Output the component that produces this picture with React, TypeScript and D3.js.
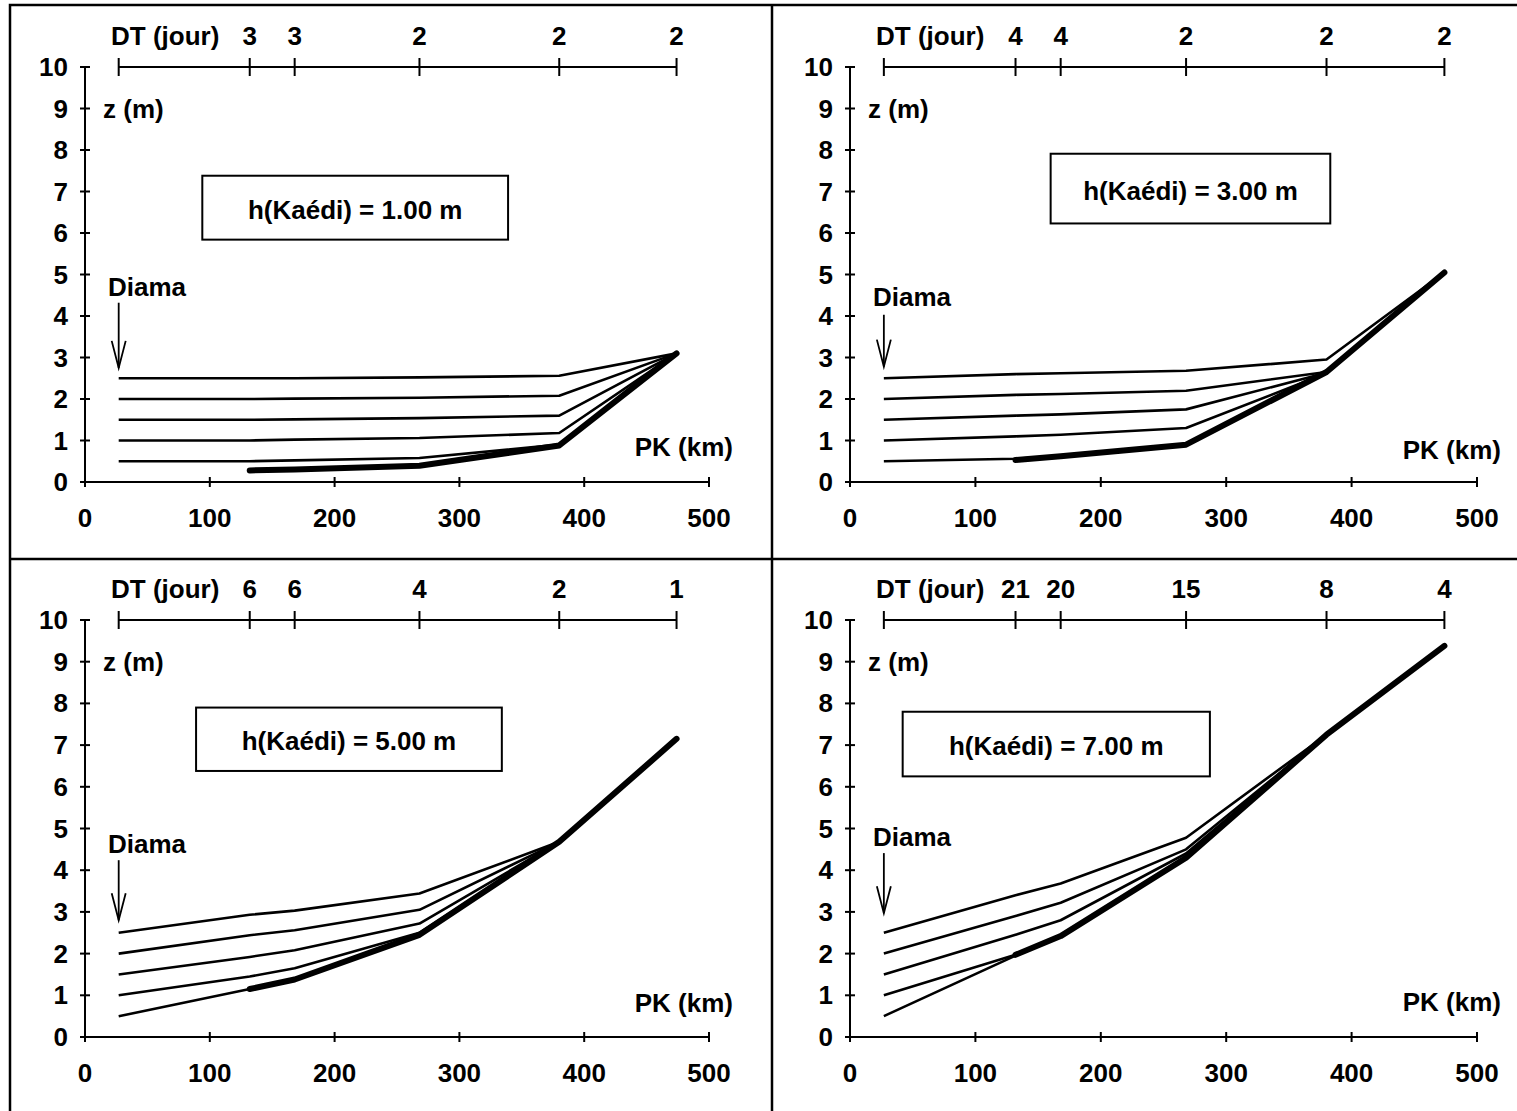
import React from 'react';
import * as d3 from 'd3';

// ---- DATA ----
const stationsPK = [27, 132, 168, 268, 380, 474];
const xTickValues = [0, 100, 200, 300, 400, 500];
const yTickValues = [0, 1, 2, 3, 4, 5, 6, 7, 8, 9, 10];

const titles = ['h(Kaédi) = 1.00 m', 'h(Kaédi) = 3.00 m', 'h(Kaédi) = 5.00 m', 'h(Kaédi) = 7.00 m'];

const dtP1 = ['3', '3', '2', '2', '2'];
const dtP2 = ['4', '4', '2', '2', '2'];
const dtP3 = ['6', '6', '4', '2', '1'];
const dtP4 = ['21', '20', '15', '8', '4'];

// Panel 1: h(Kaédi) = 1.00 m
const p1z25 = [2.5, 2.5, 2.5, 2.52, 2.56, 3.1];
const p1z20 = [2.0, 2.0, 2.01, 2.03, 2.08, 3.1];
const p1z15 = [1.5, 1.5, 1.51, 1.54, 1.6, 3.1];
const p1z10 = [1.0, 1.0, 1.02, 1.06, 1.18, 3.1];
const p1z05 = [0.5, 0.5, 0.52, 0.58, 0.9, 3.1];
const p1thick = [null, 0.28, 0.3, 0.39, 0.88, 3.1];

// Panel 2: h(Kaédi) = 3.00 m
const p2z25 = [2.5, 2.6, 2.62, 2.68, 2.95, 5.05];
const p2z20 = [2.0, 2.1, 2.12, 2.2, 2.65, 5.05];
const p2z15 = [1.5, 1.6, 1.63, 1.75, 2.63, 5.05];
const p2z10 = [1.0, 1.1, 1.14, 1.3, 2.62, 5.05];
const p2z05 = [0.5, 0.56, 0.63, 0.88, 2.63, 5.05];
const p2thick = [null, 0.53, 0.62, 0.9, 2.65, 5.05];

// Panel 3: h(Kaédi) = 5.00 m
const p3z25 = [2.5, 2.93, 3.03, 3.44, 4.68, 7.15];
const p3z20 = [2.0, 2.44, 2.56, 3.05, 4.68, 7.15];
const p3z15 = [1.5, 1.92, 2.08, 2.72, 4.68, 7.15];
const p3z10 = [1.0, 1.45, 1.65, 2.5, 4.68, 7.15];
const p3z05 = [0.5, 1.15, 1.4, 2.45, 4.68, 7.15];
const p3thick = [null, 1.15, 1.38, 2.45, 4.68, 7.15];

// Panel 4: h(Kaédi) = 7.00 m
const p4z25 = [2.5, 3.4, 3.68, 4.78, 7.25, 9.38];
const p4z20 = [2.0, 2.9, 3.22, 4.5, 7.25, 9.38];
const p4z15 = [1.5, 2.45, 2.8, 4.4, 7.25, 9.38];
const p4z10 = [1.0, 1.97, 2.42, 4.3, 7.25, 9.38];
const p4z05 = [0.5, 1.95, 2.4, 4.3, 7.25, 9.38];
const p4thick = [null, 1.97, 2.42, 4.3, 7.25, 9.38];

// ---- LAYOUT ----
const colX = [[85, 709], [850, 1477]];
const rowY = [[482, 67], [1037, 620]];
// per-panel annotation placement (data coords)
const boxes = [
  { x0: 94, x1: 339, z0: 5.84, z1: 7.38 },
  { x0: 160, x1: 383, z0: 6.23, z1: 7.91 },
  { x0: 89, x1: 334, z0: 6.38, z1: 7.9 },
  { x0: 42, x1: 287, z0: 6.25, z1: 7.8 },
];
const diamaPos = [
  { label: 4.7, top: 4.32, tip: 2.75, pk: 0.84 },
  { label: 4.46, top: 4.03, tip: 2.78, pk: 0.78 },
  { label: 4.63, top: 4.24, tip: 2.8, pk: 0.82 },
  { label: 4.8, top: 4.41, tip: 2.97, pk: 0.84 },
];

const panels = [
  { dt: dtP1, lines: [p1z25, p1z20, p1z15, p1z10, p1z05], thick: p1thick },
  { dt: dtP2, lines: [p2z25, p2z20, p2z15, p2z10, p2z05], thick: p2thick },
  { dt: dtP3, lines: [p3z25, p3z20, p3z15, p3z10, p3z05], thick: p3thick },
  { dt: dtP4, lines: [p4z25, p4z20, p4z15, p4z10, p4z05], thick: p4thick },
];

const FONT = "'Liberation Sans', Arial, Helvetica, sans-serif";
const FS = 26;

function Panel({ idx }: { idx: number }) {
  const col = idx % 2;
  const row = Math.floor(idx / 2);
  const x = d3.scaleLinear().domain([0, 500]).range(colX[col]);
  const y = d3.scaleLinear().domain([0, 10]).range(rowY[row]);
  const p = panels[idx];
  const line = d3
    .line<[number, number | null]>()
    .defined((d) => d[1] !== null)
    .x((d) => x(d[0]))
    .y((d) => y(d[1] as number));
  const pts = (arr: (number | null)[]) => stationsPK.map((pk, i) => [pk, arr[i]] as [number, number | null]);
  const txt = { fontFamily: FONT, fontSize: FS, fontWeight: 'bold' as const, fill: '#000' };
  const X0 = x(0), X500 = x(500), Y0 = y(0), Y10 = y(10);
  const b = boxes[idx];
  const dm = diamaPos[idx];
  const ax = x(stationsPK[0]);
  return (
    <g>
      {/* y axis */}
      <line x1={X0} x2={X0} y1={Y0} y2={Y10} stroke="#000" strokeWidth={2} />
      {yTickValues.map((t) => (
        <g key={'y' + t}>
          <line x1={X0 - 5} x2={X0 + 5} y1={y(t)} y2={y(t)} stroke="#000" strokeWidth={2} />
          <text x={X0 - 17} y={y(t)} textAnchor="end" dominantBaseline="central" style={txt}>{t}</text>
        </g>
      ))}
      {/* x axis */}
      <line x1={X0} x2={X500} y1={Y0} y2={Y0} stroke="#000" strokeWidth={2} />
      {xTickValues.map((t) => (
        <g key={'x' + t}>
          <line x1={x(t)} x2={x(t)} y1={Y0 - 5} y2={Y0 + 5} stroke="#000" strokeWidth={2} />
          <text x={x(t)} y={Y0 + 36} textAnchor="middle" dominantBaseline="central" style={txt}>{t}</text>
        </g>
      ))}
      {/* DT top axis */}
      <line x1={x(stationsPK[0])} x2={x(stationsPK[stationsPK.length - 1])} y1={Y10} y2={Y10} stroke="#000" strokeWidth={2} />
      {stationsPK.map((pk) => (
        <line key={'dt' + pk} x1={x(pk)} x2={x(pk)} y1={Y10 - 9} y2={Y10 + 9} stroke="#000" strokeWidth={2} />
      ))}
      <text x={X0 + 26} y={Y10 - 31} dominantBaseline="central" style={txt}>DT (jour)</text>
      {p.dt.map((lab, i) => (
        <text key={'dtl' + i} x={x(stationsPK[i + 1])} y={Y10 - 31} textAnchor="middle" dominantBaseline="central" style={txt}>{lab}</text>
      ))}
      {/* labels */}
      <text x={X0 + 18} y={y(9)} dominantBaseline="central" style={txt}>z (m)</text>
      <text x={X500 + 24} y={y(dm.pk)} textAnchor="end" dominantBaseline="central" style={txt}>PK (km)</text>
      <text x={X0 + 23} y={y(dm.label)} dominantBaseline="central" style={txt}>Diama</text>
      <line x1={ax} x2={ax} y1={y(dm.top)} y2={y(dm.tip)} stroke="#000" strokeWidth={1.8} />
      <polyline points={`${ax - 7},${y(dm.tip) - 27} ${ax},${y(dm.tip)} ${ax + 7},${y(dm.tip) - 27}`} fill="none" stroke="#000" strokeWidth={1.8} />
      {/* box */}
      <rect x={x(b.x0)} y={y(b.z1)} width={x(b.x1) - x(b.x0)} height={y(b.z0) - y(b.z1)} fill="#fff" stroke="#000" strokeWidth={2} />
      <text x={(x(b.x0) + x(b.x1)) / 2} y={(y(b.z0) + y(b.z1)) / 2 + 2} textAnchor="middle" dominantBaseline="central" style={txt}>{titles[idx]}</text>
      {/* lines */}
      {p.lines.map((arr, i) => (
        <path key={'l' + i} d={line(pts(arr)) || ''} fill="none" stroke="#000" strokeWidth={2.6} strokeLinejoin="round" />
      ))}
      <path d={line(pts(p.thick)) || ''} fill="none" stroke="#000" strokeWidth={6} strokeLinejoin="round" strokeLinecap="round" />
    </g>
  );
}

export default function App() {
  return (
    <svg width={1517} height={1111} style={{ position: 'absolute', left: 0, top: 0, background: '#fff' }}>
      <rect x={0} y={0} width={1517} height={1111} fill="#fff" />
      {/* frame */}
      <rect x={10} y={5} width={1530} height={1130} fill="none" stroke="#000" strokeWidth={2.5} />
      <line x1={772} x2={772} y1={5} y2={1111} stroke="#000" strokeWidth={2.5} />
      <line x1={10} x2={1517} y1={559} y2={559} stroke="#000" strokeWidth={2.5} />
      {[0, 1, 2, 3].map((i) => (
        <Panel key={i} idx={i} />
      ))}
    </svg>
  );
}
